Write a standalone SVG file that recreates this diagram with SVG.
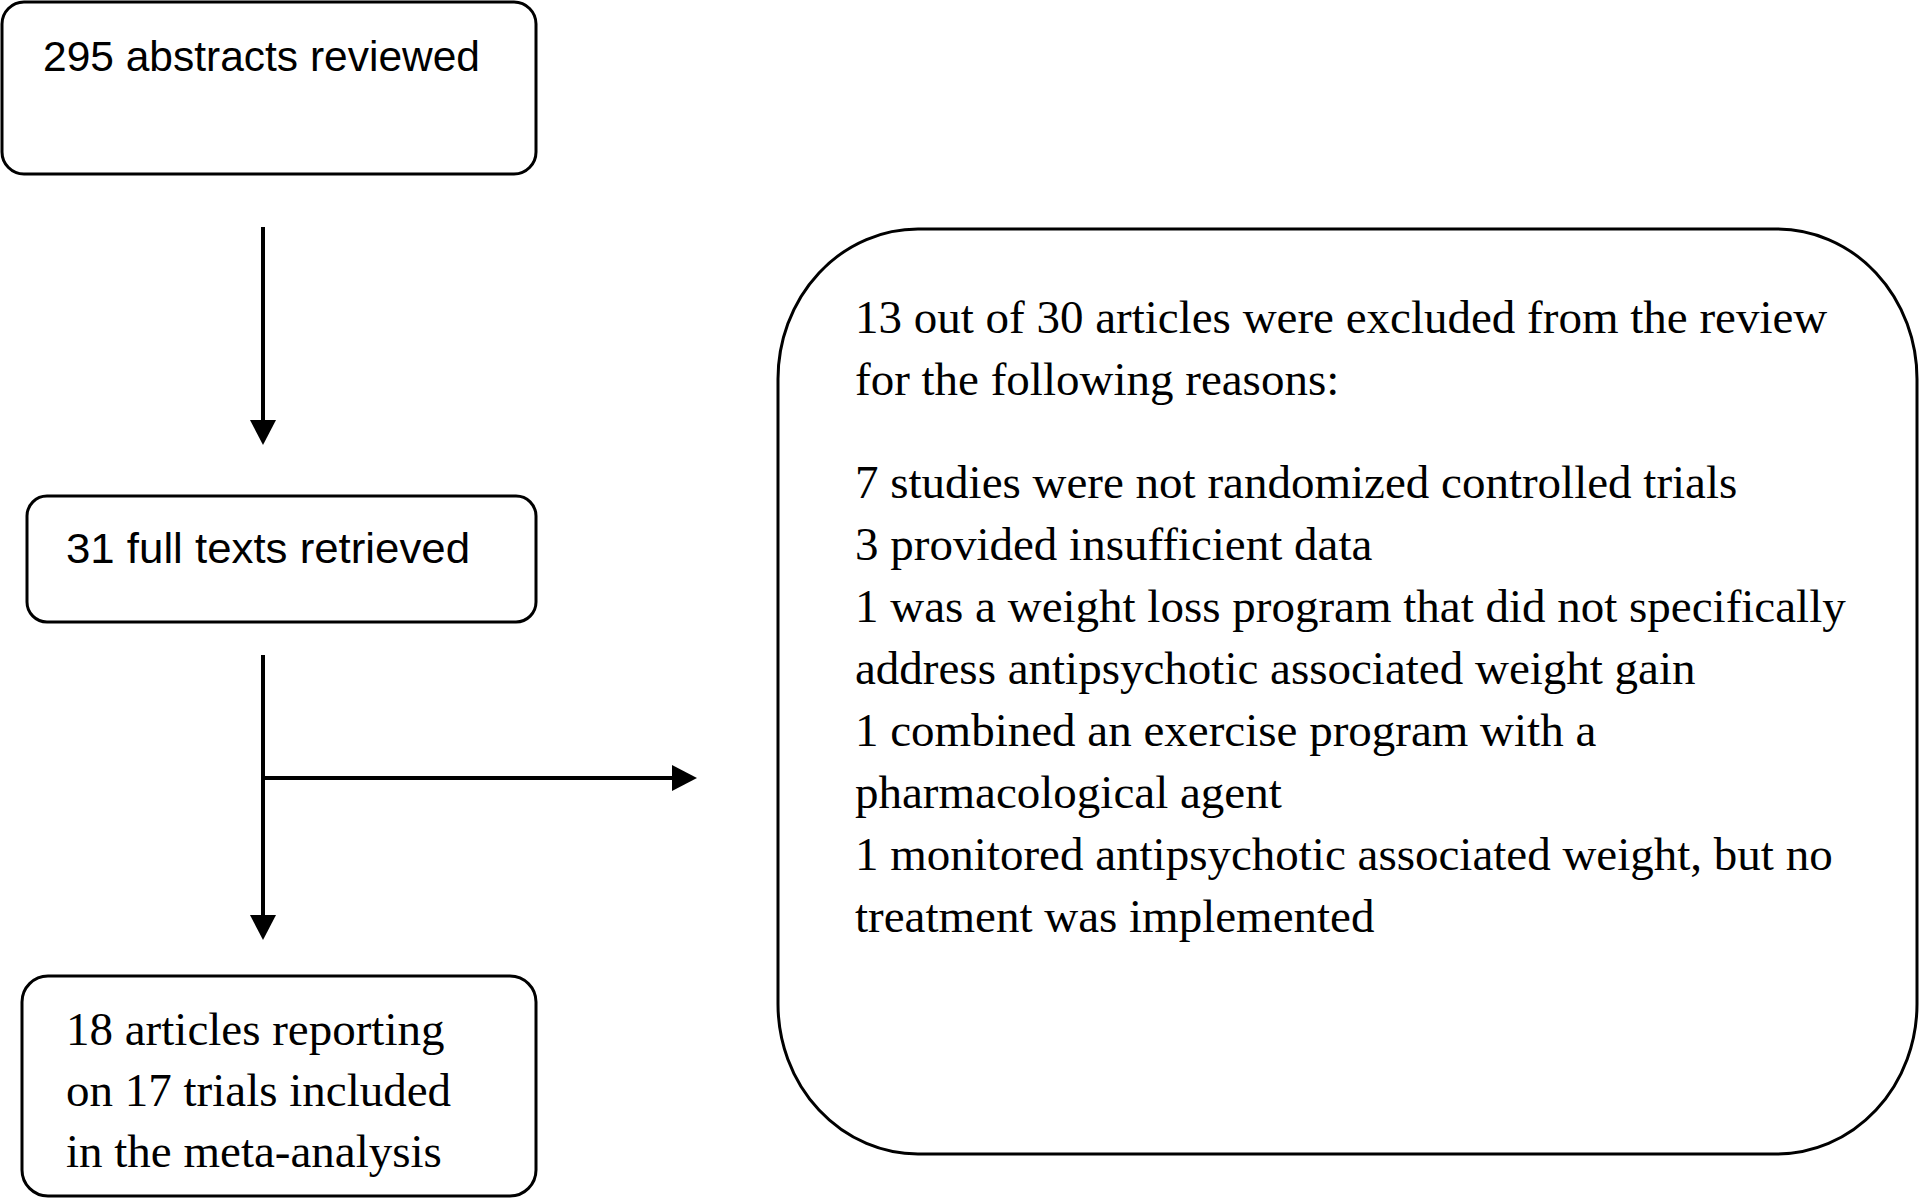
<svg xmlns="http://www.w3.org/2000/svg" width="1920" height="1199" viewBox="0 0 1920 1199">
<defs>
<style>
.box{fill:#fff;stroke:#000;stroke-width:3}
.sans{font-family:"Liberation Sans",Arial,sans-serif;font-size:43px;fill:#000}
.serif{font-family:"Liberation Serif","Times New Roman",serif;font-size:47px;fill:#000}
.conn{fill:none;stroke:#000;stroke-width:4}
</style>
<marker id="arrow" viewBox="0 0 25 26" refX="0" refY="13" markerWidth="25" markerHeight="26" markerUnits="userSpaceOnUse" orient="auto">
<path d="M0,0 L25,13 L0,26 Z" fill="#000"/>
</marker>
</defs>
<rect width="1920" height="1199" fill="#fff"/>
<g id="node-abstracts">
<rect class="box" x="2" y="2" width="534" height="172" rx="22" ry="22"/>
<text class="sans" x="43" y="71" textLength="437" lengthAdjust="spacingAndGlyphs">295 abstracts reviewed</text>
</g>
<g id="node-fulltexts">
<rect class="box" x="27" y="496" width="509" height="126" rx="20" ry="20"/>
<text class="sans" x="66" y="563" textLength="404" lengthAdjust="spacingAndGlyphs">31 full texts retrieved</text>
</g>
<g id="node-included">
<rect class="box" x="22" y="976" width="514" height="220" rx="26" ry="26"/>
<text class="serif" x="66" y="1045">18 articles reporting</text>
<text class="serif" x="66" y="1106">on 17 trials included</text>
<text class="serif" x="66" y="1167">in the meta-analysis</text>
</g>
<g id="node-excluded">
<rect class="box" x="778" y="229" width="1139" height="925" rx="140" ry="150"/>
<text class="serif" x="855" y="333">13 out of 30 articles were excluded from the review</text>
<text class="serif" x="855" y="395">for the following reasons:</text>
<text class="serif" x="855" y="498">7 studies were not randomized controlled trials</text>
<text class="serif" x="855" y="560">3 provided insufficient data</text>
<text class="serif" x="855" y="622">1 was a weight loss program that did not specifically</text>
<text class="serif" x="855" y="684">address antipsychotic associated weight gain</text>
<text class="serif" x="855" y="746">1 combined an exercise program with a</text>
<text class="serif" x="855" y="808">pharmacological agent</text>
<text class="serif" x="855" y="870">1 monitored antipsychotic associated weight, but no</text>
<text class="serif" x="855" y="932">treatment was implemented</text>
</g>
<g id="connectors">
<line class="conn" x1="263" y1="227" x2="263" y2="420" marker-end="url(#arrow)"/>
<line class="conn" x1="263" y1="655" x2="263" y2="915" marker-end="url(#arrow)"/>
<line class="conn" x1="261" y1="778" x2="672" y2="778" marker-end="url(#arrow)"/>
</g>
</svg>
